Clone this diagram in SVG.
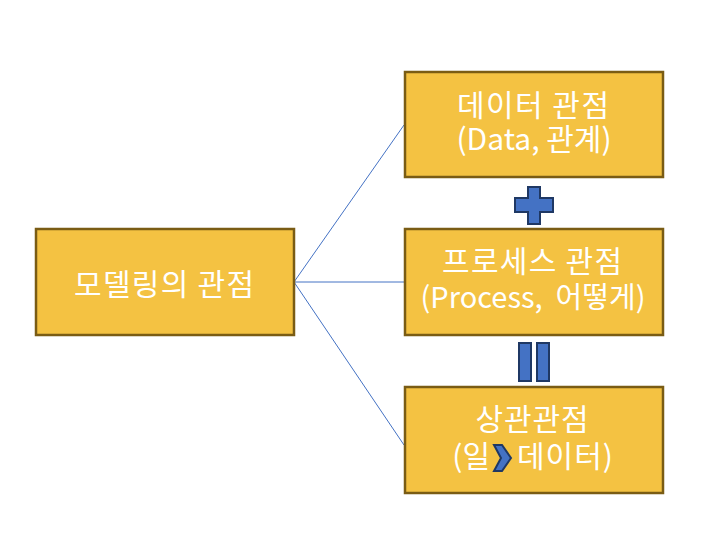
<svg xmlns="http://www.w3.org/2000/svg" width="711" height="551" viewBox="0 0 711 551">
<style>
.box{fill:#F4C242;stroke:#7A5C14;stroke-width:2.5}
.t{font-family:"Noto Sans CJK KR","Noto Sans",sans-serif;font-size:30px;fill:#FFFFFF}
.c{text-anchor:middle}
.conn{stroke:#4472C4;stroke-width:1;fill:none}
.sym{fill:#4472C4;stroke:#1F3864;stroke-width:2}
</style>
<rect width="711" height="551" fill="#FFFFFF"/>
<g id="connectors">
<line class="conn" x1="294" y1="282" x2="404" y2="125"/>
<line class="conn" x1="294" y1="282" x2="404" y2="282"/>
<line class="conn" x1="294" y1="282" x2="404" y2="445"/>
</g>
<g id="n-modeling">
<rect class="box" x="36" y="229" width="258" height="106"/>
<text class="t c" x="164" y="295" textLength="180" lengthAdjust="spacing">모델링의 관점</text>
</g>
<g id="n-data">
<rect class="box" x="405" y="72" width="258" height="105"/>
<text class="t c" x="533" y="116" textLength="152" lengthAdjust="spacing">데이터 관점</text>
<text class="t c" x="534" y="150">(Data, 관계)</text>
</g>
<g id="n-process">
<rect class="box" x="405" y="229" width="258" height="106"/>
<text class="t c" x="532" y="272" textLength="180" lengthAdjust="spacing">프로세스 관점</text>
<text class="t c" x="533" y="308" xml:space="preserve" style="font-size:29px">(Process,  어떻게)</text>
</g>
<g id="n-corr">
<rect class="box" x="405" y="387" width="258" height="106"/>
<text class="t c" x="532" y="430" textLength="113" lengthAdjust="spacing">상관관점</text>
<text class="t" x="490" y="467" text-anchor="end">(일</text>
<polygon class="sym" points="494,445 502,445 511,458 502,471 494,471 501,458"/>
<text class="t" x="517" y="467" textLength="96" lengthAdjust="spacing">데이터)</text>
</g>
<g id="plus">
<polygon class="sym" points="528,187 540,187 540,198 553,198 553,212 540,212 540,224 528,224 528,212 515,212 515,198 528,198"/>
</g>
<g id="equals">
<rect class="sym" x="519" y="343" width="12" height="38"/>
<rect class="sym" x="537" y="343" width="12" height="38"/>
</g>
</svg>
